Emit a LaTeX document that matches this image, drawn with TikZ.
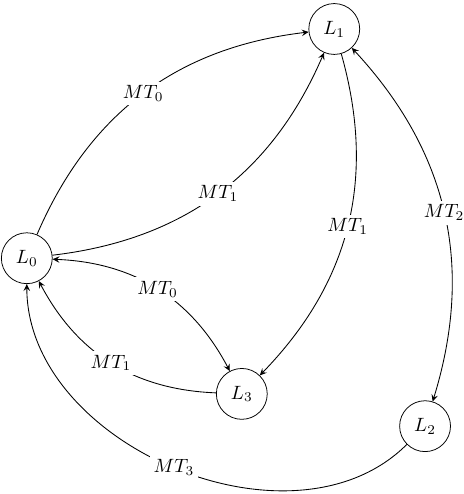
\documentclass[tikz,border=0pt]{standalone}
\usepackage{amsmath,amssymb}
\usepackage{tikz}
\usetikzlibrary{arrows.meta}

\begin{document}
\begin{tikzpicture}[
    estado/.style   ={draw=black, circle, minimum size=0.93cm, inner sep=1pt},
    etiq/.style     ={fill=white, inner sep=2pt},
    fl/.style       ={-{Stealth[length=3.6pt,width=3.4pt,inset=1.4pt]}, draw=black, line width=0.45pt}
  ]

  \useasboundingbox (0,0) rectangle (8.48,-9.03);

  % --- estados ------------------------------------------------------------
  \node[estado] (L0) at (0.49, -4.72) {$L_0$};
  \node[estado] (L1) at (6.11, -0.53) {$L_1$};
  \node[estado] (L3) at (4.42, -7.20) {$L_3$};
  \node[estado] (L2) at (7.77, -7.79) {$L_2$};

  % --- transiciones -------------------------------------------------------
  \draw[fl] (L0) to[bend left=30]  node[etiq] {$MT_0$} (L1);
  \draw[fl] (L0) to[bend right=30] node[etiq] {$MT_1$} (L1);
  \draw[fl] (L1) to[bend left=30]  node[etiq] {$MT_1$} (L3);
  \draw[fl, {Stealth[length=3.6pt,width=3.4pt,inset=1.4pt]}-{Stealth[length=3.6pt,width=3.4pt,inset=1.4pt]}]
    (L1) to[bend left=30] node[etiq] {$MT_2$} (L2);
  \draw[fl, {Stealth[length=3.6pt,width=3.4pt,inset=1.4pt]}-{Stealth[length=3.6pt,width=3.4pt,inset=1.4pt]}]
    (L0) to[bend left=30] node[etiq] {$MT_0$} (L3);
  \draw[fl] (L3) to[bend left=30]  node[etiq] {$MT_1$} (L0);
  \draw[fl] (L2) to[out=-135, in=-90, looseness=1.0] node[etiq] {$MT_3$} (L0);

\end{tikzpicture}
\end{document}
